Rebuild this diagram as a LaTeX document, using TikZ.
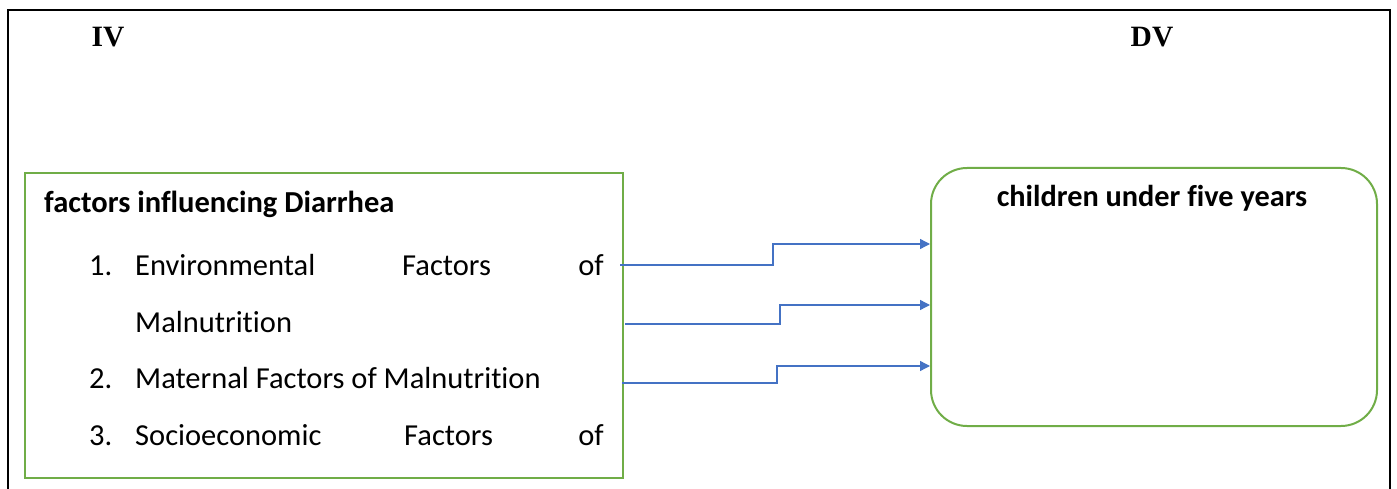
\documentclass[tikz,border=0pt]{standalone}
\usepackage{fontspec}
\setmainfont{Carlito}[Ligatures=NoCommon]
\newfontfamily\timesfont{Liberation Serif}
\usetikzlibrary{arrows.meta}
\definecolor{offgreen}{RGB}{112,173,71}
\definecolor{offblue}{RGB}{68,114,196}
\tikzset{
  lbl/.style={anchor=base west, inner sep=0pt, font=\fontsize{30.5}{34}\selectfont},
  hdr/.style={anchor=base, inner sep=0pt, font=\timesfont\bfseries\fontsize{29.5}{32}\selectfont},
  conn/.style={draw=offblue, line width=1.3pt, -{Triangle[length=10pt,width=10pt]}},
  gbox/.style={draw=offgreen, line width=2pt},
}
\begin{document}
\begin{tikzpicture}[x=1pt,y=-1pt]
\useasboundingbox (0,0) rectangle (1397,489);
\draw[line width=2pt] (8,489) -- (8,10) -- (1390,10) -- (1390,489);
\node[hdr] (iv) at (108,47) {IV};
\node[hdr] (dv) at (1152,47) {DV};
% left box
\node[gbox, rectangle, minimum width=598pt, minimum height=305pt, anchor=north west, inner sep=0pt] (lbox) at (24,172) {};
\node[lbl, font=\bfseries\fontsize{30.5}{34}\selectfont] (t) at (44,212) {factors influencing Diarrhea};
\node[lbl] (n1) at (89,275) {1.};
\node[lbl] (e1) at (135,275) {Environmental};
\node[lbl] (f1) at (402,275) {Factors};
\node[lbl, anchor=base east] (o1) at (604,275) {of};
\node[lbl] (m1) at (135,332) {Malnutrition};
\node[lbl] (n2) at (89,388) {2.};
\node[lbl] (e2) at (135,388) {Maternal Factors of Malnutrition};
\node[lbl] (n3) at (89,445) {3.};
\node[lbl] (e3) at (135,445) {Socioeconomic};
\node[lbl] (f3) at (404,445) {Factors};
\node[lbl, anchor=base east] (o3) at (604,445) {of};
% right box
\node[gbox, rectangle, rounded corners=36pt, minimum width=446pt, minimum height=258pt, anchor=north west, inner sep=0pt] (rbox) at (930,167) {};
\node[lbl, anchor=base, font=\bfseries\fontsize{30.3}{34}\selectfont] (c) at (1152,207) {children under five years};
% connectors
\coordinate (s1) at (620,265);
\coordinate (s2) at (625,324);
\coordinate (s3) at (622,383);
\draw[conn] (s1) -- (773,265) -- (773,244) -- (rbox.west |- 0,244);
\draw[conn] (s2) -- (780,324) -- (780,305) -- (rbox.west |- 0,305);
\draw[conn] (s3) -- (777,383) -- (777,366) -- (rbox.west |- 0,366);
\end{tikzpicture}
\end{document}
